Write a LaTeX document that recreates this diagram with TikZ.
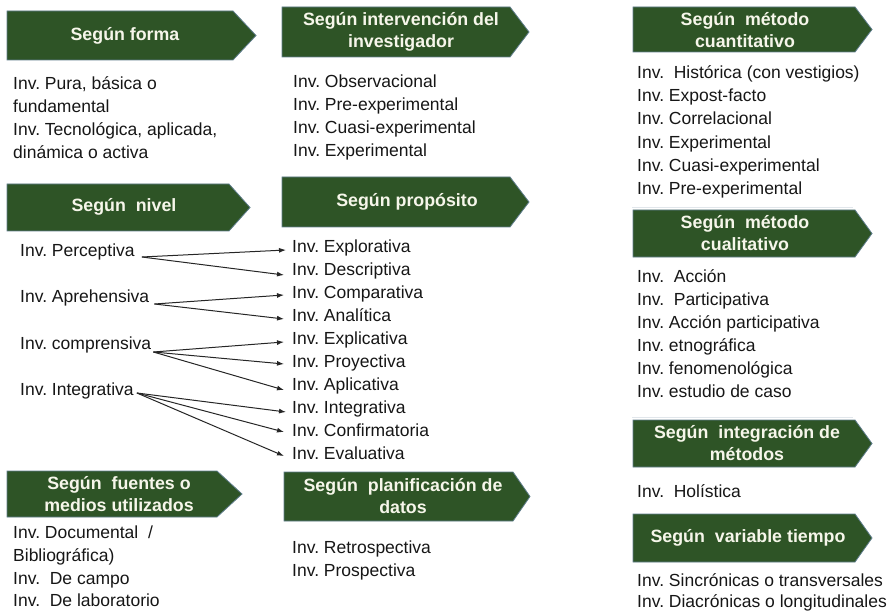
\documentclass[tikz,border=0pt]{standalone}
\usepackage{fontspec}
\setmainfont{Liberation Sans}
\usetikzlibrary{arrows.meta}
\definecolor{hdrgreen}{RGB}{46,84,38}
\definecolor{hdredge}{RGB}{95,125,140}
\definecolor{hdrtext}{RGB}{246,246,234}
\definecolor{bodytext}{RGB}{22,22,22}
\definecolor{faintline}{RGB}{225,230,235}
\frenchspacing
\newcommand\hdrbox[9]{%
  \draw[hdrshape] (#2,#3) -- (#4,#3) -- (#5,{(#3+#6)/2}) -- (#4,#6) -- (#2,#6) -- cycle;
  \node[hdrlabel] (#1) at (#7,#8) {#9};}
\begin{document}
\begin{tikzpicture}[x=1pt,y=-1pt,
  hdrshape/.style={fill=hdrgreen, draw=hdredge, line width=0.8pt},
  hdrlabel/.style={text=hdrtext, font=\fontsize{17.8}{22}\selectfont\bfseries, align=center, inner sep=0},
  item/.style={text=bodytext, font=\fontsize{17.5}{23}\selectfont, anchor=base west, inner sep=0},
  link/.style={draw=black!85, line width=1pt, -{Latex[length=7pt,width=5pt]}},
]
\useasboundingbox (0,0) rectangle (888,612);

% headers
\hdrbox{hforma}{7}{11}{233}{256}{60}{125}{36}{Según forma}
\hdrbox{hinterv}{282}{7}{510}{529}{57}{401}{32}{Según intervención del\\investigador}
\hdrbox{hcuanti}{633}{7}{855}{872}{52}{745}{30}{Según\ \ método\\cuantitativo}
\hdrbox{hnivel}{7}{184}{229}{250}{231}{124}{207}{Según\ \ nivel}
\hdrbox{hprop}{282}{177}{510}{529}{227}{407}{202}{Según propósito}
\hdrbox{hcuali}{633}{210}{855}{872}{257}{745}{233}{Según\ \ método\\cualitativo}
\hdrbox{hinteg}{633}{420}{855}{872}{467}{747}{443}{Según\ \ integración de\\métodos}
\hdrbox{hfuent}{7}{471}{217}{242}{517}{119}{494}{Según\ \ fuentes o\\medios utilizados}
\hdrbox{hplan}{284}{472}{513}{530}{521}{403}{496}{Según\ \ planificación de\\datos}
\hdrbox{htiempo}{633}{514}{855}{872}{562}{748}{538}{Según\ \ variable tiempo}

% faint separators
\draw[faintline, line width=0.8pt] (632,207) -- (853,207);
\draw[faintline, line width=0.8pt] (632,417) -- (853,417);

% Según forma
\node[item] (f1) at (13,90) {Inv. Pura, básica o};
\node[item] (f2) at (13,113) {fundamental};
\node[item] (f3) at (13,136) {Inv. Tecnológica, aplicada,};
\node[item] (f4) at (13,159) {dinámica o activa};

% Según intervención
\node[item] (i1) at (293,88) {Inv. Observacional};
\node[item] (i2) at (293,111) {Inv. Pre-experimental};
\node[item] (i3) at (293,134) {Inv. Cuasi-experimental};
\node[item] (i4) at (293,157) {Inv. Experimental};

% Según método cuantitativo
\node[item] (c1) at (637,79) {Inv.\ \ Histórica (con vestigios)};
\node[item] (c2) at (637,102) {Inv. Expost-facto};
\node[item] (c3) at (637,125) {Inv. Correlacional};
\node[item] (c4) at (637,149) {Inv. Experimental};
\node[item] (c5) at (637,172) {Inv. Cuasi-experimental};
\node[item] (c6) at (637,195) {Inv. Pre-experimental};

% Según nivel
\node[item] (n1) at (20,256) {Inv. Perceptiva};
\node[item] (n2) at (20,302) {Inv. Aprehensiva};
\node[item] (n3) at (20,349) {Inv. comprensiva};
\node[item] (n4) at (20,395) {Inv. Integrativa};

% Según propósito
\node[item] (p1) at (292,252) {Inv. Explorativa};
\node[item] (p2) at (292,275) {Inv. Descriptiva};
\node[item] (p3) at (292,298) {Inv. Comparativa};
\node[item] (p4) at (292,321) {Inv. Analítica};
\node[item] (p5) at (292,344) {Inv. Explicativa};
\node[item] (p6) at (292,367) {Inv. Proyectiva};
\node[item] (p7) at (292,390) {Inv. Aplicativa};
\node[item] (p8) at (292,413) {Inv. Integrativa};
\node[item] (p9) at (292,436) {Inv. Confirmatoria};
\node[item] (p10) at (292,459) {Inv. Evaluativa};

% Según método cualitativo
\node[item] (q1) at (637,282) {Inv.\ \ Acción};
\node[item] (q2) at (637,305) {Inv.\ \ Participativa};
\node[item] (q3) at (637,328) {Inv. Acción participativa};
\node[item] (q4) at (637,351) {Inv. etnográfica};
\node[item] (q5) at (637,374) {Inv. fenomenológica};
\node[item] (q6) at (637,397) {Inv. estudio de caso};

% Según integración
\node[item] (g1) at (637,497) {Inv.\ \ Holística};

% Según fuentes
\node[item] (s1) at (13,538) {Inv. Documental\ \ /};
\node[item] (s2) at (13,561) {Bibliográfica)};
\node[item] (s3) at (13,584) {Inv.\ \ De campo};
\node[item] (s4) at (13,606) {Inv.\ \ De laboratorio};

% Según planificación
\node[item] (d1) at (292,553) {Inv. Retrospectiva};
\node[item] (d2) at (292,576) {Inv. Prospectiva};

% Según variable tiempo
\node[item] (t1) at (637,586) {Inv. Sincrónicas o transversales};
\node[item] (t2) at (637,607) {Inv. Diacrónicas o longitudinales};

% arrows
\draw[link] ([xshift=7,yshift=-1]n1.base east) -- ([xshift=-6,yshift=2]p1.base west);
\draw[link] ([xshift=7,yshift=-1]n1.base east) -- ([xshift=-8,yshift=0]p2.base west);
\draw[link] ([xshift=5,yshift=-2]n2.base east) -- ([xshift=-8,yshift=3]p3.base west);
\draw[link] ([xshift=5,yshift=-2]n2.base east) -- ([xshift=-8,yshift=2]p4.base west);
\draw[link] ([xshift=2,yshift=-3]n3.base east) -- ([xshift=-8,yshift=2]p5.base west);
\draw[link] ([xshift=2,yshift=-3]n3.base east) -- ([xshift=-8,yshift=3]p6.base west);
\draw[link] ([xshift=2,yshift=-3]n3.base east) -- ([xshift=-8,yshift=0]p7.base west);
\draw[link] ([xshift=3,yshift=2]n4.base east) -- ([xshift=-6,yshift=1]p8.base west);
\draw[link] ([xshift=3,yshift=2]n4.base east) -- ([xshift=-8,yshift=4]p9.base west);
\draw[link] ([xshift=3,yshift=2]n4.base east) -- ([xshift=-8,yshift=3]p10.base west);
\end{tikzpicture}
\end{document}
